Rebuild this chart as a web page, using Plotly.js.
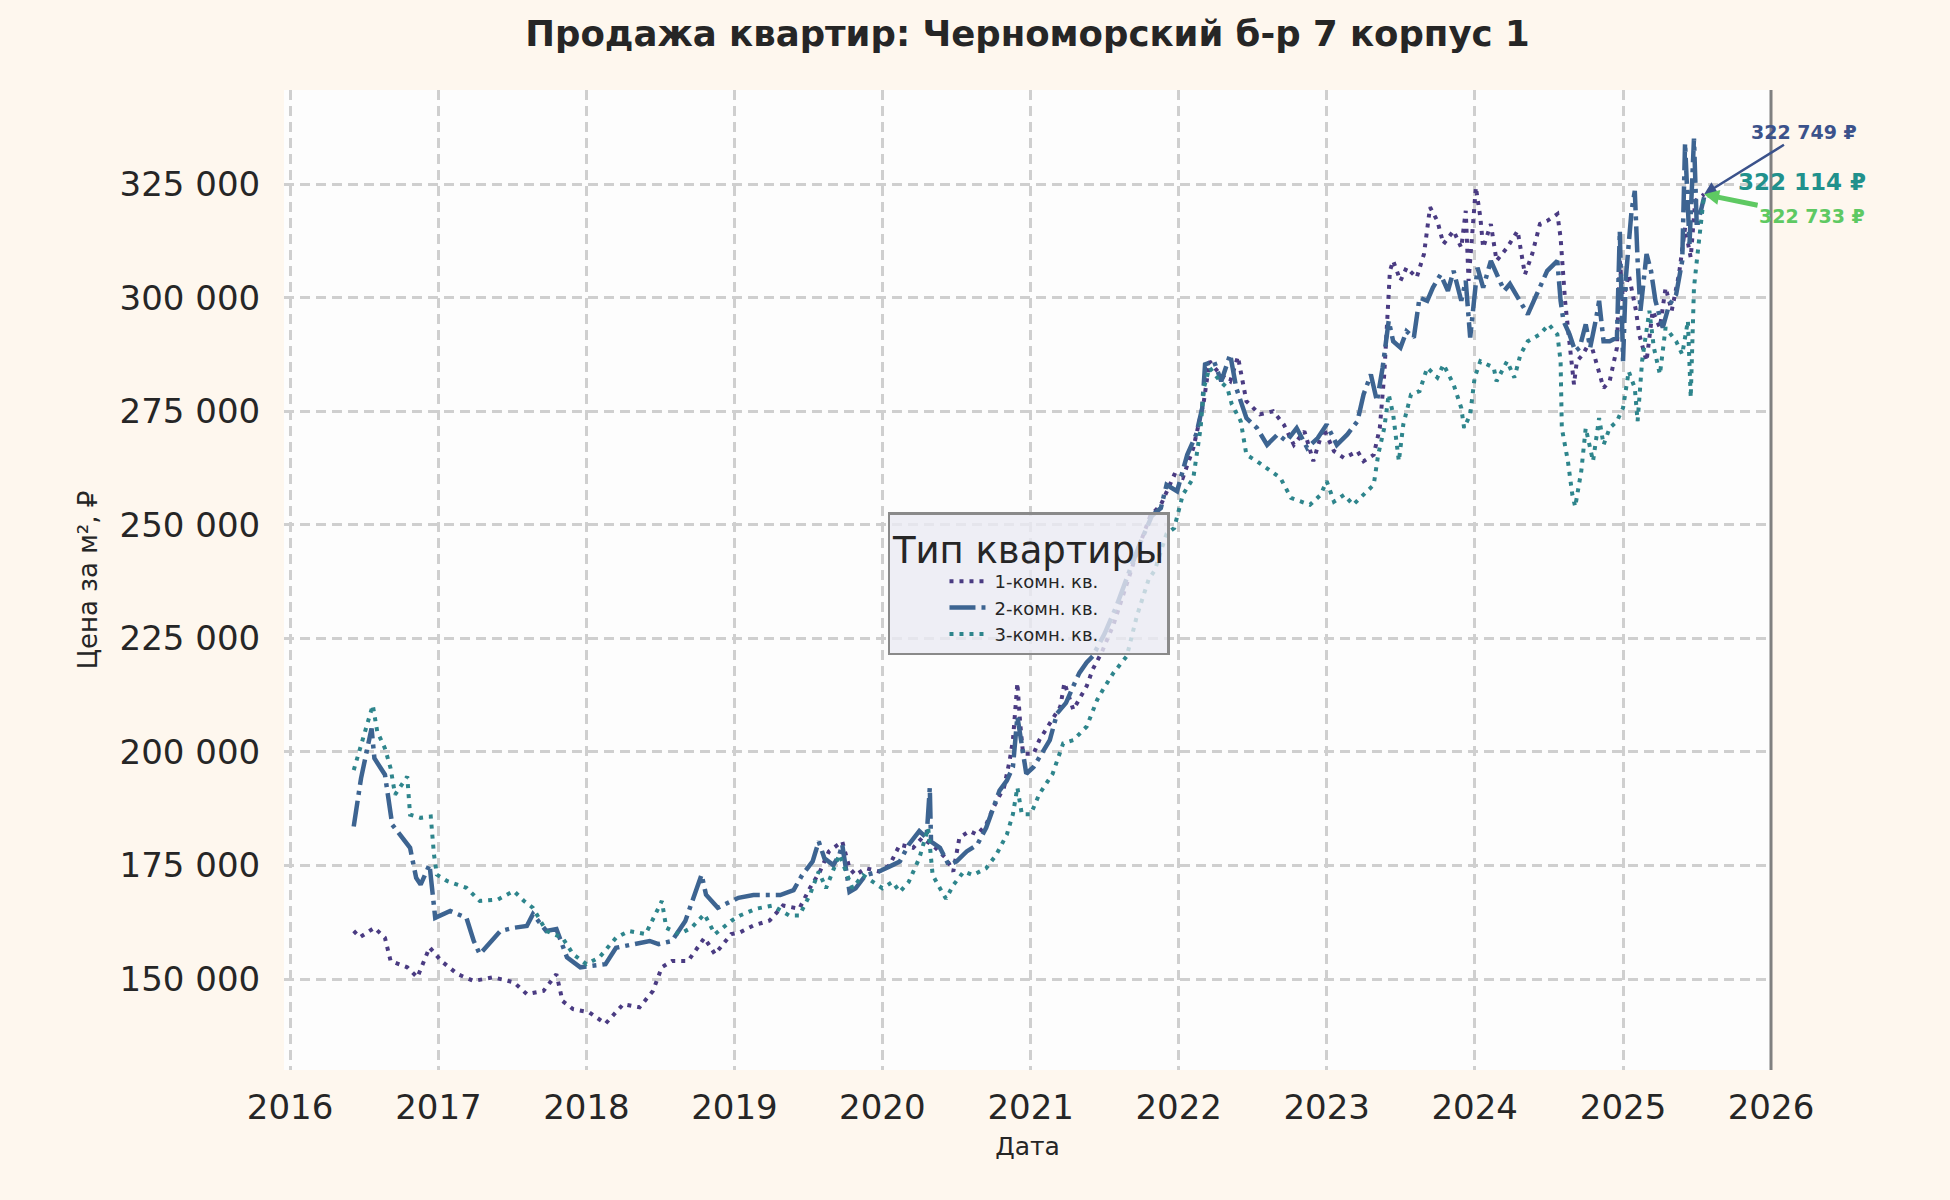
<!DOCTYPE html>
<html>
<head>
<meta charset="utf-8">
<script src="https://cdn.plot.ly/plotly-3.0.1.min.js"></script>
<style>
  body { margin: 0; background: #fef7ee; }
  #chart { width: 1950px; height: 1200px; }
</style>
</head>
<body>
<div id="chart"></div>
<script>
// values; dates are decimal years
const seriesNames = ["1-комн. кв.", "2-комн. кв.", "3-комн. кв."];
const lineColors = ["#4a3b82", "#3d6491", "#2e858c"];
const labelColors = ["#3b528b", "#21918c", "#5ec962"];

const years1 = [2016.43, 2016.47, 2016.57, 2016.64, 2016.68, 2016.79, 2016.86, 2016.94, 2017.02, 2017.13,
  2017.24, 2017.37, 2017.51, 2017.60, 2017.71, 2017.80, 2017.84, 2017.91, 2018.02, 2018.13,
  2018.25, 2018.36, 2018.45, 2018.51, 2018.58, 2018.69, 2018.80, 2018.87, 2018.98, 2019.04,
  2019.13, 2019.24, 2019.33, 2019.44, 2019.51, 2019.58, 2019.64, 2019.73, 2019.78, 2019.82,
  2019.89, 2019.98, 2020.05, 2020.12, 2020.21, 2020.27, 2020.36, 2020.43, 2020.48, 2020.52,
  2020.59, 2020.64, 2020.70, 2020.75, 2020.82, 2020.86, 2020.88, 2020.91, 2020.93, 2020.95,
  2021.02, 2021.06, 2021.13, 2021.20, 2021.23, 2021.29, 2021.38, 2021.42, 2021.48, 2021.56,
  2021.65, 2021.73, 2021.81, 2021.88, 2021.97, 2022.03, 2022.10, 2022.17, 2022.21, 2022.28,
  2022.35, 2022.40, 2022.46, 2022.55, 2022.64, 2022.71, 2022.78, 2022.85, 2022.91, 2022.98,
  2023.05, 2023.12, 2023.21, 2023.25, 2023.32, 2023.36, 2023.39, 2023.41, 2023.43, 2023.45,
  2023.50, 2023.54, 2023.61, 2023.66, 2023.68, 2023.70, 2023.75, 2023.79, 2023.86, 2023.91,
  2023.94, 2023.96, 2024.01, 2024.04, 2024.06, 2024.11, 2024.15, 2024.22, 2024.29, 2024.34,
  2024.39, 2024.44, 2024.49, 2024.56, 2024.58, 2024.61, 2024.64, 2024.67, 2024.69, 2024.73,
  2024.78, 2024.82, 2024.87, 2024.91, 2024.96, 2024.98, 2025.00, 2025.04, 2025.09, 2025.11,
  2025.16, 2025.20, 2025.25, 2025.29, 2025.33, 2025.38, 2025.42, 2025.46, 2025.49, 2025.55];
const price1 = [160600, 159200, 161300, 159100, 154000, 152600, 150400, 157000, 154000, 151100,
  149600, 150400, 149300, 146700, 147400, 151100, 145200, 143400, 142700, 140200,
  144500, 143800, 147400, 152600, 154000, 154000, 159100, 155500, 159900, 160300,
  161800, 162900, 166200, 165500, 170000, 173700, 178100, 180300, 174400, 172900,
  174400, 173700, 175100, 179600, 178900, 181100, 178900, 176600, 173700, 181100,
  182600, 181800, 184000, 187800, 192200, 198100, 202600, 215200, 206300, 199600,
  199600, 202600, 206300, 210000, 215200, 209300, 214500, 218200, 221900, 228000,
  237000, 245000, 252000, 254400, 261000, 260300, 266900, 277200, 286000, 283100,
  281600, 287000, 277200, 274300, 275000, 272100, 267600, 270600, 264000, 271300,
  266200, 264700, 266200, 264000, 265400, 271300, 283100, 296300, 305900, 308100,
  303700, 306600, 304400, 309600, 315400, 319900, 316900, 311800, 314700, 311000,
  319100, 303700, 324300, 317700, 311000, 316200, 308100, 311000, 314700, 305100,
  309600, 316200, 316900, 318400, 313200, 299300, 290000, 280900, 286000, 287500,
  290400, 286000, 280100, 281600, 289000, 308100, 299300, 305100, 297100, 291900,
  286000, 297100, 293400, 302200, 297100, 305100, 315400, 308800, 321300, 322749];

const years2 = [2016.43, 2016.48, 2016.55, 2016.57, 2016.64, 2016.69, 2016.81, 2016.85, 2016.88, 2016.94,
  2016.98, 2017.08, 2017.19, 2017.24, 2017.28, 2017.42, 2017.51, 2017.60, 2017.64, 2017.73,
  2017.80, 2017.87, 2017.96, 2018.04, 2018.13, 2018.20, 2018.31, 2018.43, 2018.49, 2018.58,
  2018.67, 2018.78, 2018.81, 2018.89, 2019.03, 2019.13, 2019.22, 2019.31, 2019.40, 2019.46,
  2019.53, 2019.57, 2019.61, 2019.67, 2019.71, 2019.73, 2019.78, 2019.82, 2019.89, 2019.98,
  2020.07, 2020.12, 2020.18, 2020.25, 2020.30, 2020.32, 2020.33, 2020.39, 2020.45, 2020.50,
  2020.57, 2020.64, 2020.70, 2020.75, 2020.79, 2020.84, 2020.88, 2020.91, 2020.94, 2020.97,
  2021.02, 2021.06, 2021.13, 2021.18, 2021.24, 2021.29, 2021.33, 2021.38, 2021.42, 2021.50,
  2021.58, 2021.66, 2021.74, 2021.82, 2021.88, 2021.92, 2021.99, 2022.06, 2022.12, 2022.16,
  2022.18, 2022.24, 2022.29, 2022.35, 2022.39, 2022.46, 2022.53, 2022.60, 2022.67, 2022.73,
  2022.80, 2022.87, 2022.94, 2023.00, 2023.07, 2023.14, 2023.21, 2023.25, 2023.30, 2023.34,
  2023.38, 2023.42, 2023.45, 2023.50, 2023.54, 2023.59, 2023.63, 2023.68, 2023.72, 2023.77,
  2023.82, 2023.86, 2023.91, 2023.94, 2023.97, 2024.02, 2024.06, 2024.11, 2024.15, 2024.20,
  2024.24, 2024.31, 2024.36, 2024.42, 2024.49, 2024.56, 2024.58, 2024.60, 2024.64, 2024.68,
  2024.71, 2024.75, 2024.78, 2024.82, 2024.84, 2024.87, 2024.91, 2024.96, 2024.98, 2025.00,
  2025.02, 2025.06, 2025.08, 2025.10, 2025.12, 2025.16, 2025.19, 2025.22, 2025.27, 2025.31,
  2025.36, 2025.40, 2025.42, 2025.45, 2025.48, 2025.50, 2025.55];
const price2 = [183600, 194200, 205200, 198600, 195000, 184000, 178900, 172300, 170800, 175200,
  163500, 165000, 163500, 158400, 155500, 160600, 161300, 161700, 164300, 160600,
  161000, 154800, 152600, 152900, 153300, 156900, 157700, 158400, 157700, 158400,
  162800, 173000, 168600, 165700, 167900, 168500, 168500, 168500, 169600, 172900,
  175900, 180300, 176600, 175100, 177400, 179600, 169200, 170000, 172900, 173700,
  175100, 175900, 179600, 182600, 181100, 192200, 180300, 178900, 175100, 175900,
  178100, 179600, 183300, 187800, 191500, 193700, 196700, 207800, 201900, 195200,
  196700, 198900, 202600, 208500, 210800, 214500, 217400, 219700, 221100, 226000,
  232000, 239000, 246000, 252000, 253700, 258800, 257400, 265400, 269900, 275700,
  285300, 286000, 281600, 287500, 280100, 273500, 271300, 267600, 269900, 268400,
  271300, 266900, 269100, 272100, 267600, 269900, 272800, 278700, 283100, 277200,
  284600, 294900, 290400, 289000, 292600, 291200, 300000, 299300, 302200, 305100,
  301500, 305900, 299300, 303700, 291200, 306600, 302200, 308100, 305100, 301500,
  303000, 299300, 296300, 300700, 305900, 308100, 299300, 294900, 291900, 288200,
  289000, 294100, 289000, 295600, 299300, 290400, 290400, 291200, 314700, 286000,
  304400, 319100, 323500, 308100, 297100, 309600, 305900, 299300, 293400, 298200,
  300700, 308100, 334000, 311800, 335000, 315400, 322114];

const years3 = [2016.43, 2016.50, 2016.56, 2016.59, 2016.64, 2016.68, 2016.71, 2016.79, 2016.81, 2016.88,
  2016.95, 2016.97, 2016.99, 2017.06, 2017.19, 2017.28, 2017.40, 2017.51, 2017.58, 2017.64,
  2017.73, 2017.84, 2017.91, 2018.00, 2018.09, 2018.20, 2018.29, 2018.40, 2018.51, 2018.54,
  2018.63, 2018.71, 2018.80, 2018.87, 2018.98, 2019.04, 2019.15, 2019.26, 2019.37, 2019.44,
  2019.51, 2019.57, 2019.62, 2019.71, 2019.76, 2019.80, 2019.87, 2019.94, 2020.00, 2020.07,
  2020.12, 2020.18, 2020.25, 2020.31, 2020.34, 2020.39, 2020.43, 2020.48, 2020.55, 2020.61,
  2020.70, 2020.77, 2020.84, 2020.88, 2020.91, 2020.94, 2021.00, 2021.06, 2021.15, 2021.22,
  2021.29, 2021.38, 2021.45, 2021.49, 2021.56, 2021.65, 2021.72, 2021.80, 2021.84, 2021.92,
  2021.97, 2022.03, 2022.10, 2022.15, 2022.17, 2022.21, 2022.28, 2022.33, 2022.36, 2022.42,
  2022.46, 2022.53, 2022.62, 2022.69, 2022.76, 2022.82, 2022.89, 2022.96, 2023.00, 2023.05,
  2023.12, 2023.18, 2023.25, 2023.32, 2023.35, 2023.39, 2023.42, 2023.45, 2023.49, 2023.52,
  2023.57, 2023.63, 2023.68, 2023.75, 2023.79, 2023.86, 2023.91, 2023.93, 2023.97, 2024.00,
  2024.04, 2024.13, 2024.15, 2024.22, 2024.27, 2024.31, 2024.36, 2024.44, 2024.50, 2024.56,
  2024.58, 2024.59, 2024.63, 2024.66, 2024.68, 2024.72, 2024.75, 2024.80, 2024.84, 2024.87,
  2024.91, 2024.96, 2025.00, 2025.04, 2025.08, 2025.10, 2025.13, 2025.18, 2025.21, 2025.25,
  2025.29, 2025.36, 2025.40, 2025.44, 2025.46, 2025.48, 2025.50, 2025.55];
const price3 = [196000, 203700, 210300, 204500, 200800, 196400, 190600, 194600, 186200, 185500,
  185800, 177400, 173000, 171600, 170100, 167200, 167500, 169400, 167200, 165700,
  160600, 159100, 155500, 153300, 154800, 159100, 160600, 159900, 167200, 161300,
  159900, 161300, 164300, 159900, 162800, 164000, 165500, 166200, 164000, 164000,
  168500, 173700, 170000, 177400, 172900, 170000, 172900, 171400, 170000, 171400,
  169200, 171400, 176600, 183300, 172900, 170000, 167700, 170700, 173700, 172900,
  174400, 177400, 181800, 186300, 192200, 186300, 186300, 190700, 195200, 201900,
  202600, 205600, 211500, 213700, 217400, 221100, 230000, 238000, 240000, 248000,
  249300, 256600, 260300, 271300, 280100, 284600, 281600, 280100, 276500, 272800,
  265400, 264000, 261800, 260300, 255900, 255100, 254400, 256600, 259600, 255100,
  256600, 254400, 256600, 258800, 265400, 271300, 278700, 274300, 264000, 272100,
  278700, 279400, 284600, 282400, 285300, 280900, 275700, 271300, 274300, 282400,
  286000, 284600, 281600, 286000, 282400, 287500, 290400, 291900, 294100, 291900,
  286000, 271300, 264000, 256600, 254000, 261800, 271300, 264000, 273500, 267600,
  271300, 272800, 275700, 283800, 280100, 272800, 286000, 297100, 289000, 283100,
  293400, 290400, 287500, 294900, 278000, 302200, 308100, 322733];

const yTicks = [150000, 175000, 200000, 225000, 250000, 275000, 300000, 325000];

function yearToDate(y) {
  const yr = Math.floor(y);
  const start = Date.UTC(yr, 0, 1);
  const end = Date.UTC(yr + 1, 0, 1);
  return new Date(start + (y - yr) * (end - start)).toISOString().slice(0, 10);
}

const font = "DejaVu Sans, Arial, sans-serif";
const allYears = [years1, years2, years3];
const allPrices = [price1, price2, price3];
const dashes = ["4px,6px", "26px,6px,4px,6px", "4px,6px"];
const widths = [4, 4.5, 4];

const traces = allYears.map((ys, i) => ({
  x: ys.map(yearToDate),
  y: allPrices[i],
  name: seriesNames[i],
  type: "scatter",
  mode: "lines",
  line: { color: lineColors[i], width: widths[i], dash: dashes[i] },
}));

function lastPoint(i) {
  const ys = allYears[i];
  return { x: yearToDate(ys[ys.length - 1]), y: allPrices[i][allPrices[i].length - 1] };
}

function fmt(v) {
  return String(v).replace(/\B(?=(\d{3})+(?!\d))/g, " ") + " ₽";
}

const p1 = lastPoint(0), p2 = lastPoint(1), p3 = lastPoint(2);

const layout = {
  width: 1950,
  height: 1200,
  paper_bgcolor: "#fef7ee",
  plot_bgcolor: "#fdfdfd",
  separators: ", ",
  margin: { l: 284, r: 179, t: 90, b: 130 },
  font: { family: font, color: "#262626" },
  title: {
    text: "<b>Продажа квартир: Черноморский б-р 7 корпус 1</b>",
    font: { size: 35.5, family: font, color: "#262626" },
    x: 0.5, xref: "paper", xanchor: "center",
    y: 0.972, yref: "container", yanchor: "middle",
  },
  xaxis: {
    type: "date",
    range: ["2015-12-17", "2026-01-01"],
    dtick: "M12",
    tick0: "2016-01-01",
    tickformat: "%Y",
    tickfont: { size: 34, family: font, color: "#262626" },
    ticks: "outside", ticklen: 7, tickcolor: "rgba(0,0,0,0)",
    showgrid: true, gridcolor: "#cfcfcf", gridwidth: 2.5, griddash: "10px,6px",
    zeroline: false, showline: false,
    title: { text: "Дата", font: { size: 25, family: font, color: "#262626" }, standoff: 11 },
  },
  yaxis: {
    range: [130000, 345700],
    tickvals: yTicks,
    tickformat: ",d",
    tickfont: { size: 34, family: font, color: "#262626" },
    ticks: "outside", ticklen: 16, tickcolor: "rgba(0,0,0,0)",
    showgrid: true, gridcolor: "#cfcfcf", gridwidth: 2.5, griddash: "10px,6px",
    zeroline: false, showline: false,
    title: { text: "Цена за м², ₽", font: { size: 26, family: font, color: "#262626" }, standoff: 14 },
  },
  legend: {
    title: { text: "Тип квартиры", font: { size: 37, family: font, color: "#262626" }, side: "top center" },
    font: { size: 18, family: font, color: "#262626" },
    x: 0.501, xanchor: "center",
    y: 0.569, yanchor: "top",
    bgcolor: "rgba(234,234,242,0.8)",
    bordercolor: "#8a8a8a",
    borderwidth: 2.5,
    itemwidth: 40,
    indentation: 54,
    tracegroupgap: 0,
  },
  shapes: [{
    type: "line", xref: "paper", yref: "paper",
    x0: 1, x1: 1, y0: 0, y1: 1,
    line: { color: "#808080", width: 3 },
  }],
  annotations: [
    {
      x: p1.x, y: p1.y, xref: "x", yref: "y",
      text: "<b>" + fmt(p1.y) + "</b>",
      font: { size: 19, family: font, color: labelColors[0] },
      showarrow: true, ax: 100, ay: -62,
      arrowcolor: labelColors[0], arrowwidth: 2.5, arrowhead: 2, arrowsize: 1,
    },
    {
      x: p2.x, y: p2.y, xref: "x", yref: "y",
      text: "<b>" + fmt(p2.y) + "</b>",
      font: { size: 23, family: font, color: labelColors[1] },
      showarrow: false, xshift: 98, yshift: 15,
    },
    {
      x: p3.x, y: p3.y, xref: "x", yref: "y",
      text: "<b>" + fmt(p3.y) + "</b>",
      font: { size: 19, family: font, color: labelColors[2] },
      showarrow: true, ax: 108, ay: 22,
      arrowcolor: labelColors[2], arrowwidth: 5, arrowhead: 2, arrowsize: 0.6,
    },
  ],
};

Plotly.newPlot("chart", traces, layout, { displayModeBar: false });
</script>
</body>
</html>
